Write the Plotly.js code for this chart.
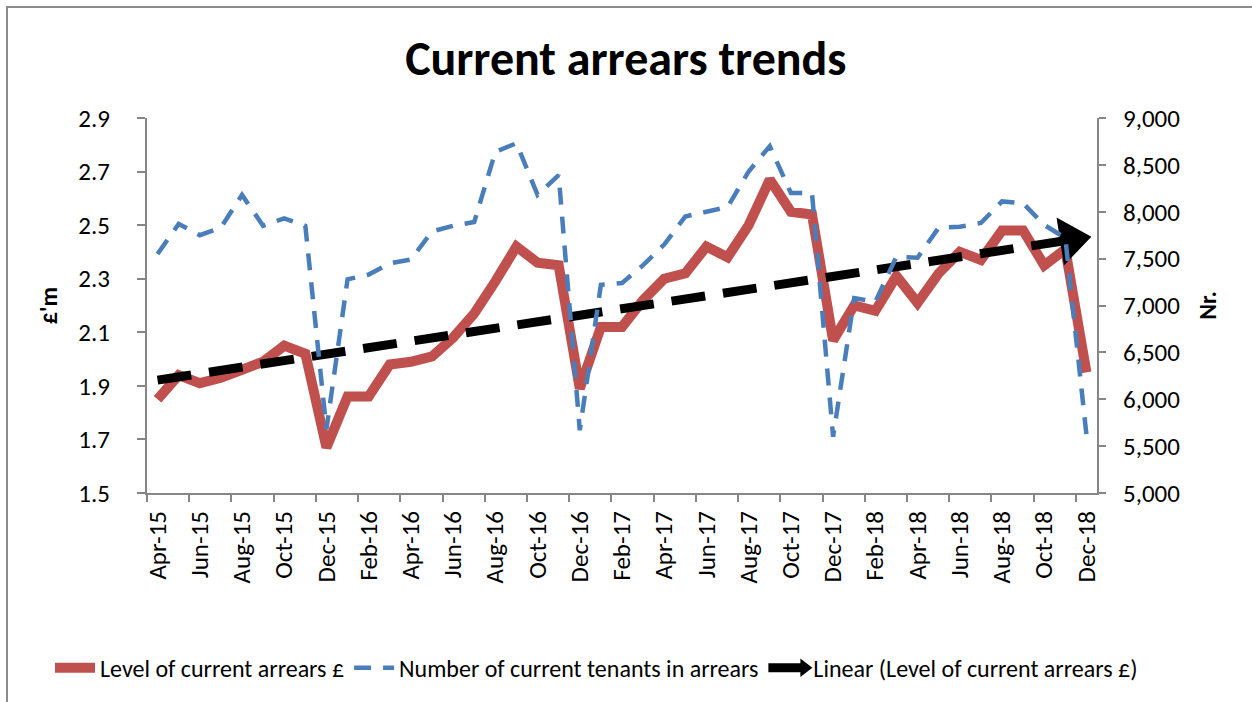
<!DOCTYPE html>
<html>
<head>
<meta charset="utf-8">
<script src="https://cdn.plot.ly/plotly-3.0.1.min.js"></script>
<style>html,body{margin:0;padding:0;background:#fff;}#chart{width:1252px;height:702px;}</style>
</head>
<body>
<div id="chart"></div>
<script>
// Monthly categories Apr-15 .. Dec-18
const months = ['Apr-15','May-15','Jun-15','Jul-15','Aug-15','Sep-15','Oct-15','Nov-15','Dec-15',
  'Jan-16','Feb-16','Mar-16','Apr-16','May-16','Jun-16','Jul-16','Aug-16','Sep-16','Oct-16','Nov-16','Dec-16',
  'Jan-17','Feb-17','Mar-17','Apr-17','May-17','Jun-17','Jul-17','Aug-17','Sep-17','Oct-17','Nov-17','Dec-17',
  'Jan-18','Feb-18','Mar-18','Apr-18','May-18','Jun-18','Jul-18','Aug-18','Sep-18','Oct-18','Nov-18','Dec-18'];

// Level of current arrears (£m)
const arrears = [1.85,1.94,1.91,1.93,1.96,1.99,2.05,2.02,1.67,
  1.86,1.86,1.98,1.99,2.01,2.08,2.17,2.29,2.42,2.36,2.35,1.89,
  2.12,2.12,2.22,2.30,2.32,2.42,2.38,2.50,2.67,2.55,2.54,2.07,
  2.20,2.18,2.31,2.21,2.32,2.40,2.37,2.48,2.48,2.35,2.41,1.95];

// Number of current tenants in arrears
const tenants = [7550,7870,7750,7830,8180,7850,7930,7850,5680,
  7280,7330,7450,7490,7790,7850,7890,8640,8730,8180,8390,5670,
  7220,7240,7430,7650,7950,8000,8050,8430,8700,8200,8200,5600,
  7080,7040,7520,7510,7830,7840,7880,8110,8090,7860,7720,5620];

// Least-squares linear trend of the arrears series (Excel "Linear" trendline)
const n = arrears.length;
let sx=0, sy=0, sxy=0, sxx=0;
for (let i=0;i<n;i++){ const x=i+1; sx+=x; sy+=arrears[i]; sxy+=x*arrears[i]; sxx+=x*x; }
const slope = (n*sxy - sx*sy)/(n*sxx - sx*sx);
const intercept = (sy - slope*sx)/n;
const trendX = [months[0], months[n-1]];
const trendY = [intercept + slope*1, intercept + slope*n];

const FONT = 'Carlito, Lato, "Open Sans", sans-serif';
const AX = '#868686';

const traces = [
  {x: months, y: arrears, type:'scatter', mode:'lines', name:'Level of current arrears £',
   line:{color:'#C0504D', width:10}, xaxis:'x', yaxis:'y'},
  {x: months, y: tenants, type:'scatter', mode:'lines', name:'Number of current tenants in arrears',
   line:{color:'#4A7EBB', width:4.5, dash:'17px,12px'}, xaxis:'x', yaxis:'y2'},
  {x: trendX, y: trendY, type:'scatter', mode:'lines+markers', name:'Linear (Level of current arrears £)',
   line:{color:'#000000', width:9, dash:'34px,18px'},
   marker:{symbol:'triangle-up', angleref:'previous', standoff:16, size:[0,42], color:'#000000', opacity:1, line:{width:0}},
   xaxis:'x', yaxis:'y'}
];

const layout = {
  width:1252, height:702,
  paper_bgcolor:'#ffffff', plot_bgcolor:'#ffffff',
  margin:{l:147, r:155, t:118, b:209, autoexpand:false},
  font:{family:FONT, color:'#000', size:24},
  title:{text:'<b>Current arrears trends</b>', font:{family:FONT, size:48, color:'#000'},
         x:0.504, xanchor:'center', y:1-58/702, yanchor:'middle', xref:'paper', yref:'container'},
  showlegend:true,
  legend:{orientation:'h', x:(50-147)/950, xanchor:'left', y:-0.467, yanchor:'middle',
          font:{family:FONT, size:24, color:'#000'}, bgcolor:'rgba(0,0,0,0)', itemwidth:40,
          tracegroupgap:0},
  xaxis:{type:'category', range:[-0.5, 44.5], tickmode:'linear', tick0:0, dtick:2,
         tickson:'boundaries', ticks:'outside', ticklen:7, tickcolor:AX, tickwidth:2,
         tickangle:-90, showline:true, linecolor:AX, linewidth:2, showgrid:false, zeroline:false,
         tickfont:{family:FONT, size:25, color:'#000'}, ticklabelstandoff:6, fixedrange:true},
  yaxis:{range:[1.5,2.9], tickmode:'linear', tick0:1.5, dtick:0.2, tickformat:'.1f',
         ticks:'outside', ticklen:8, tickcolor:AX, tickwidth:2, showline:true, linecolor:AX, linewidth:2,
         showgrid:false, zeroline:false, tickfont:{family:FONT, size:25, color:'#000'}, ticklabelstandoff:22,
         title:{text:'<b>£\'m</b>', font:{family:FONT, size:24, color:'#000'}, standoff:14}},
  yaxis2:{range:[5000,9000], tickmode:'linear', tick0:5000, dtick:500, tickformat:',d',
          overlaying:'y', side:'right', ticks:'outside', ticklen:7, tickcolor:AX, tickwidth:2,
          showline:true, linecolor:AX, linewidth:2, showgrid:false, zeroline:false,
          tickfont:{family:FONT, size:25, color:'#000'}, ticklabelstandoff:12,
          title:{text:'<b>Nr.</b>', font:{family:FONT, size:24, color:'#000'}, standoff:20}},
  shapes:[
    {type:'path', xref:'paper', yref:'paper',
     path:'M '+((7-147)/950)+' '+((493-702)/375)+' L '+((7-147)/950)+' '+((493-7)/375)+' L '+((1252-147)/950)+' '+((493-7)/375),
     line:{color:'#8c8c8c', width:2}}
  ]
};

Plotly.newPlot('chart', traces, layout, {displayModeBar:false, staticPlot:true});
</script>
</body>
</html>
